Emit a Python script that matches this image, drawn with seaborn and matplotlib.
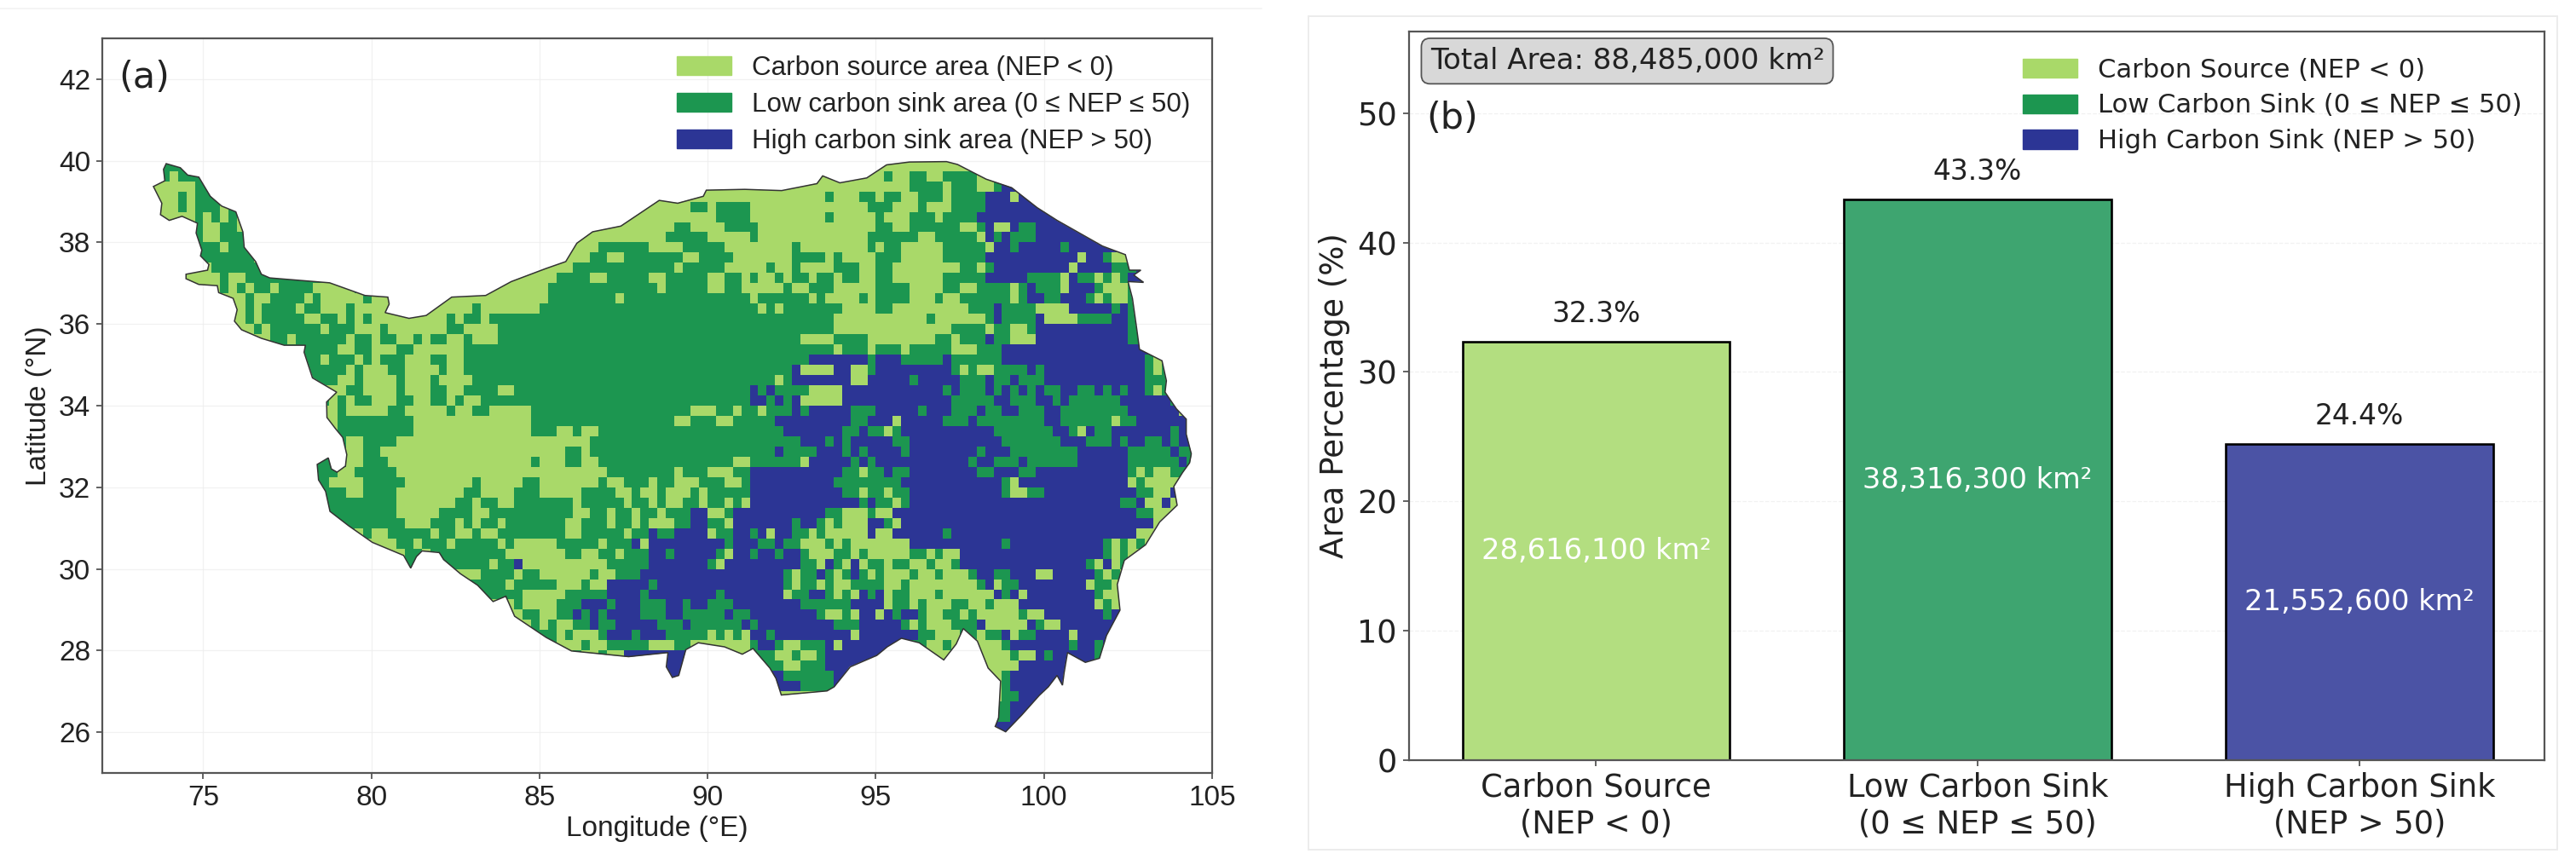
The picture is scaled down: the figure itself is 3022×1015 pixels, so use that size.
#!/usr/bin/env python3
import numpy as np
import pandas as pd
import matplotlib
matplotlib.use('Agg')
import matplotlib.pyplot as plt
import seaborn as sns
from matplotlib.patches import Patch, Polygon, Rectangle
from matplotlib.transforms import Affine2D

# Panel (a): NEP class map on a 0.25 degree grid.
# a = source, b = low sink, c = high sink, . = outside
# each row runs 73-75 | 75-80 | 80-85 | 85-90 | 90-95 | 95-100 | 100-105
map_rows = [
    "...bbbb.|||||.aaaaaaaaaaaaaa|",
    "...babbb||||.............aaaaaaa|abaabbaabbbbaa|",
    "..aaaaab|b||...................a|aaaaaaaaaaaaaaaaaaaa|aaaabbbbabbbaabcc|",
    "..aaabab|bb||..................aa|aaaaaaaaaaaaaabaaabb|abbaabbbabbbbcccacc.|",
    "...aabab|bbab||...............aaabb|abbbbaaaaaaaaaaaaaab|bbaaabaaabbbbccccccc|ccc",
    "...aaaab|ababa||............aaaaaaaa|abbbbaaaaaaaaabaaaaa|baaabbbabbbbcccccccc|cccc",
    ".......b|aabbaa||..........aaaaaabbaa|aabbbbaaaaaaaaaaaaaa|bbaabbbbbbaabcaacbbc|ccccc",
    ".......b|aabbbb||......aaaaaaaaabbbbb|aaaaabaaaaaaaaaaaaab|bbbbbaabbbbbacbcbbbc|cccccc",
    ".......b|bbabbb||...aaaabbbbbbaaaabbb|bbaaaaaaaabaaaaaaaab|abbaaaaabbbbbaccbccc|ccbcccccc",
    "|bbbbbba||..aaaabbaabbbbbbbaab|bbbaaaaaaabbbbabaaaa|bbbaaaaabbbbbccccccc|ccccaccbaabaab",
    "|abbbbbba|...................a|aaaabbbbbbbbbbbbabbb|bbaaaaabaabaaaabbbaa|bbaaaaaaaabbabcccccc|cccaccccbbbcc",
    "......aa|aabaabbbbbbbbbbb|.................aaa|aabbbbaabbbbbaabbbbb|aabbabaababbabbabbaa|bbaaaaaabbbbbcccccbb|bbacbbababcccc",
    ".......a|aabababbabbbbaaaaaba|.............aaaaaaa|abbbbbbbbbbbbbabbbbb|aabbaaaaabaabbbaaaaa|bbbbaaaabbaabbbbabcb|bbacccbaaabccc",
    "|...aabaabbbbabaaaaaba|aa..........aaaaaaaa|abbbbbbbbabbbbbbbbbb|bbbbbabbbbbbabaaaaba|bbbbaaabaabbbbbbabcc|bbcccbabaabcb",
    "|...aababbbbabbaaabaab|aa.....aaaaabaaaaaaa|bbbbbbbbbbbbbbbbbbbb|bbbbbbababbbbbbbaaaa|bbaaaaaaaaabbbcbbbba|aaacccccbcbb",
    "|...aababbbbbaabbabab|aaaaaaaaababbabbbbbb|bbbbbbbbbbbbbbbbbbbb|bbbbbbbbbbbbbbbaaaaa|aaaaaabaaaaaabcbbbbc|aaaabbbbccbbb",
    "|....aababbbbbbabbbaa|abaaaaaaabbaaaabbbbb|bbbbbbbbbbbbbbbbbbbb|bbbbbbbbbbbbbbbaaaaa|aaaaaaaaabbbbabbaabc|ccccccccccbbb",
    "|.......abbabbbbbbabb|abbaababbaabaaabbbbb|bbbbbbbbbbbbbbbbbbbb|bbbbbbbbbbbaaaabbbba|aaaaaaabbabbbcbbaaac|ccccccccccbbb",
    "|............bbbbaabb|aaabbaaaaaabbbbbbbbb|bbbbbbbbbbbbbbbbbbbb|bbbbbbbbbbbbbbbabbba|bbbabbbbbaaabbbccccc|ccccccccccccc",
    "|............bbabbbab|abbbaaabbaabbbbbbbbb|bbbbbbbbbbbbbbbbbbbb|bbbbbbbbbbbbcccccccb|cccbbbbbcbbbbbbccccc|ccccccccccccbab",
    "|............bbbbbaba|aabbaaaabaabbbbbbbbb|bbbbbbbbbbbbbbbbbbbb|bbbbbbbbbbcaaaaccaab|cccccccccbabaabbbbcb|ccccccccccccbabb",
    "|............bbbbaaba|aaabaaabaaaabbbbbbbb|bbbbbbbbbbbbbbbbbbbb|bbbbbbbbabcccccccaac|ccccbcccccbbbcbbcbbb|ccccccccccccbbbb",
    "|............bbaaabba|aaabaaabbaabbbbaabbb|bbbbbbbbbbbbbbbbbbbb|bbbbbcbcbbbbaaaacccc|ccccccccbcbbbcbcbcbc|bbccbbcbcbccbabab",
    "|............bbbababb|aaabbaabbabaabbbbbbb|bbbbbbbbbbbbbbbbbbbb|bbbbbccbcbcaaaaacccc|cccccccccbbbbbccbbbc|cbcbbbbbbccccccbba",
    "|............baaabaaa|aabbaaaaabaabbaaaaab|bbbbbbbbbbbbbbbbbbaa|abbabbabbbcbcccccbbb|cccccbcccbbbcbbccbbb|ccbbbbbbbbccccccacb",
    "|............baaabbbb|bbbbbaaaaaaaaaaaaaab|bbbbbbbbbbbbbbbbaabb|baabbbbbcccccccccbbc|ccacccccbbbcbbbbbbbb|ccbbbbbbabbcccccccca",
    "|...............abbbb|bbbbbaaaaaaaaaaaaaab|bbaabaabbbbbbbbbbbbb|bbbbbbbbbcccccccbbcb|babcccccccccccbbbbbb|bccbacbbcccccccbcccc",
    "|...............bbaab|bbbaaaaaaaaaaaaaaaaa|aaaaaabbbbbbbbbbbbbb|bbbbbbbbbbbcccbcbccc|ccbbcccccccccccbbbbb|bbcccbbbcbccbbcbccb",
    "|...............bbaab|baaaaaaaaaaaaaaaaaaa|aaabbabbbbbbbbbbbbbb|bbbbbbbbcbbbbcccbcbc|cccbccccccccbcccbbbb|bbbbccccccbbbbbcbbaa",
    "|.............bbbbaab|bbaaaaaaaaaaaaaaaaab|aaabbaabbbbbbbbbbbbb|bbbaabbbbbbacccccbcb|cccccccccccbccbbbcbb|bbbbccccccbbbbbbcbba",
    "|.............bbbaabb|bbbaaaaaaaaaaaaaaaaa|aaaaaaaabbbbbbbbabbb|aaabbcccccccccccbbab|bcbbccccccccbbcccbbc|ccccccccccbabaabbaab",
    "|.............bbaaaab|bbbbaaaaaaaabaaaaabb|aaaaaaabaabbbabbaaab|bbaabccccccccccbbbbb|bbbccccccccccccbaccc|ccccccccccabaaaabaaa",
    "|.............bbbbaab|bbbaaaaaaaabbaaaabbb|aaaaabbbbaabaabaaaba|bbbbbcccccccccccbbab|babbcccccccccccbaabb|cccccccccccbbaacaaaa",
    "|.............bbbbbbb|bbbaaaaaaabbabbaabbb|bbbbabbbbbabbabaabba|bbabacccccccccccccbc|bbabcccccccccccccccc|cccccccccbbcaacaaaa",
    "|..............bbbbbb|bbbaaaaabbbbaabbbbbb|bbbbaabbabbabbabbbcc|aabcccccccccccbbaaab|aacccccccccccccccccc|cccccccccccbbaaaaba",
    "|...............bbbbb|bbbbaaabbbababbabbbb|bbbaabbbabbabaaabbcc|bbacccccccbccbabaaac|cbaccccccccccccccccc|cccccccccccccaabaa",
    "|................bbab|aabbbbbabbaabaabbbbb|bbbaabbbbbabbcbbcccc|abbccbcaccbbabaaaaac|aaccccccbccccccccccc|cccccccccccaaaba",
    "|..................ba|aaabbabbbabbbbbabaaa|aabbbbbabbbcaccccccc|ccbcccbbcbbaaababaaa|aaaacccccccccccbcccc|cccccccbababaa",
    "||baaabbabbbbbbbbbaaaa|aaabbaabbabbbccbcccc|cbaccbccbccbaaabbaba|aaaabbabaacccccccccc|cccccccbabaabaab",
    "||...bbbbbbbbbbbabbcaa|aaaaaaaabbbbbccccccc|bacccccccccbbacbacab|babbaabaabcccccccccc|cccccbacabaabab",
    "||..........aaabbbbabb|aaaaaabaabbbcccccccc|cccccccccbabbcbabcba|baaabaabaaabccbbccca|acccccbabaabaab",
    "||.............bbbabbb|bbaaabaacccccbcccccc|cccccccccbabbabaabbb|baabaaaaaaaabcabbccc|cccccabbababab",
    "||...............bbbaa|aaabbbbbccccbccccccc|cbcccccccabbccbabacb|cabbaaabaaaaaacbcacc|ccccccbaabaaba",
    "||................abaa|aabbbcccbcccbbbccbcc|bbbccccccccbbbbbbccc|cabbabaaabbaabaaaccc|ccccccabaabab",
    "||................aabb|aabbcbcbccccbbbccbbb|bbcbbccccccccbaabacc|acbccbaabbabaaaaabaa|cccccccbcbbbb",
    "||..................ab|abaabbcbbcccccbbbcbb|bbbbcbcccccccccbbbcc|cccbabaaabbbcaaaaacb|aaccccccccc",
    "|||bbabaaabcccbcccbbbbb|ababaccbcccccccccacc|cccccbbaaabbabbcabbc|cccacccccb",
    "|||abaaabaabbbbbaaabbaa|aaaaabccbaabbbcacccc|ccccbbaabab..aabcccc|cccbccbc",
    "|||..aabaabaacc...ccc..|.aaaabbbaabaabcccccc|ccc.....aab...aabaac|bcccccb",
    "|||...............ccc|.......bbaabbbcccccc|.............aaaaccc|cccbcc",
    "|||...............ccc|.......ccbbbbbbccc|.............aabcccc|ccc",
    "|||...............ccc|........cccbbbbccc|..............abcccc|c",
    "||||........aaaaaaaa|..............abbccc|",
    "|||||..............bbcccc|",
    "|||||..............bbccc|",
    "|||||..............ccc|",
]
block_sizes = [8, 20, 20, 20, 20, 20, 20]
class_codes = {'a': 0, 'b': 1, 'c': 2}

# region outline, lon/lat read clockwise from the north-west tip
boundary = [
    (73.90, 39.93), (74.32, 39.83), (74.54, 39.65), (74.87, 39.60), (75.21, 39.13), (75.55, 38.89),
    (75.97, 38.75), (76.18, 38.26), (76.22, 37.88), (76.56, 37.53), (76.73, 37.22), (76.98, 37.13),
    (78.76, 37.01), (79.81, 36.70), (80.49, 36.66), (80.53, 36.49), (80.41, 36.28), (81.12, 36.14),
    (81.63, 36.21), (82.39, 36.66), (83.40, 36.70), (84.16, 37.04), (85.19, 37.36), (85.78, 37.53),
    (86.11, 37.98), (86.58, 38.26), (87.42, 38.40), (88.56, 39.03), (89.11, 38.96), (89.87, 39.13),
    (89.96, 39.28), (91.10, 39.30), (92.20, 39.27), (93.25, 39.44), (93.42, 39.63), (93.93, 39.46),
    (94.73, 39.58), (95.32, 39.90), (96.00, 39.97), (97.10, 39.98), (97.43, 39.91), (98.28, 39.55),
    (99.04, 39.34), (99.80, 38.85), (100.39, 38.54), (101.74, 37.91), (102.42, 37.70), (102.54, 37.32),
    (102.88, 37.32), (102.67, 37.20), (102.96, 37.02), (102.50, 37.04), (102.63, 36.63), (102.75, 35.93),
    (102.84, 35.38), (103.51, 35.10), (103.64, 34.61), (103.60, 34.33), (103.94, 33.92), (104.23, 33.67),
    (104.23, 33.30), (104.38, 32.82), (104.33, 32.60), (104.12, 32.36), (103.86, 32.02), (103.96, 31.56),
    (103.44, 31.15), (103.02, 30.59), (102.39, 30.21), (102.18, 29.62), (102.26, 28.99), (101.86, 28.37),
    (101.65, 27.81), (101.23, 27.71), (100.70, 27.95), (100.60, 27.46), (100.55, 27.15), (100.39, 27.39),
    (100.13, 27.11), (99.86, 26.90), (99.34, 26.42), (98.86, 26.01), (98.55, 26.14), (98.65, 26.35),
    (98.71, 27.25), (98.34, 27.57), (98.02, 28.23), (97.60, 28.54), (97.39, 28.16), (97.02, 27.77),
    (96.29, 28.19), (95.76, 28.30), (95.34, 28.09), (95.03, 27.88), (94.24, 27.60), (93.76, 27.11),
    (93.55, 27.01), (92.19, 26.91), (92.03, 27.32), (91.85, 27.57), (91.35, 28.05), (91.03, 27.91),
    (90.50, 28.09), (89.72, 28.19), (89.35, 28.02), (89.14, 27.39), (88.95, 27.34), (88.77, 27.60),
    (88.82, 27.95), (87.65, 27.85), (85.95, 27.99), (85.20, 28.32), (84.26, 28.84), (84.00, 29.33),
    (83.62, 29.20), (83.16, 29.60), (82.65, 29.88), (82.15, 30.23), (82.02, 30.40), (81.51, 30.44),
    (81.34, 30.30), (81.17, 30.02), (80.96, 30.33), (80.03, 30.65), (79.32, 31.06), (78.77, 31.41),
    (78.64, 31.90), (78.43, 32.18), (78.39, 32.56), (78.72, 32.72), (78.81, 32.45), (78.98, 32.37),
    (79.23, 32.52), (79.27, 32.80), (79.15, 33.22), (78.94, 33.43), (78.68, 33.71), (78.67, 34.09),
    (78.97, 34.33), (78.25, 34.68), (78.00, 35.31), (78.04, 35.48), (77.41, 35.48), (76.73, 35.65),
    (76.14, 35.86), (75.93, 36.07), (76.01, 36.35), (75.89, 36.63), (75.46, 36.77), (75.42, 36.94),
    (74.87, 36.97), (74.49, 37.11), (74.49, 37.22), (75.13, 37.32), (75.17, 37.46), (74.92, 37.67),
    (74.96, 37.81), (74.79, 38.23), (74.83, 38.47), (74.37, 38.64), (73.99, 38.54), (73.73, 38.68),
    (73.77, 38.96), (73.52, 39.37), (73.86, 39.51), (73.82, 39.79),
]
map_labels = ['Carbon source area (NEP < 0)', 'Low carbon sink area (0 ≤ NEP ≤ 50)', 'High carbon sink area (NEP > 50)']
map_colors = ['#A9D969', '#1C9650', '#2C3595']

# Panel (b)
categories = ['Carbon Source\n(NEP < 0)', 'Low Carbon Sink\n(0 ≤ NEP ≤ 50)', 'High Carbon Sink\n(NEP > 50)']
percentages = [32.3, 43.3, 24.4]
areas = ['28,616,100 km²', '38,316,300 km²', '21,552,600 km²']
bar_colors = ['#B3DE80', '#3EA570', '#4B53A5']
bar_labels = ['Carbon Source (NEP < 0)', 'Low Carbon Sink (0 ≤ NEP ≤ 50)', 'High Carbon Sink (NEP > 50)']

FIG_W, FIG_H = 3022, 1015

sns.set_style('white')
plt.rcParams['font.family'] = 'DejaVu Sans'


def px_axes(fig, left, top, right, bottom):
    return fig.add_axes([left / FIG_W, 1 - bottom / FIG_H, (right - left) / FIG_W, (bottom - top) / FIG_H])


def style_spines(ax):
    for spine in ax.spines.values():
        spine.set_visible(True)
        spine.set_color('#555555')
        spine.set_linewidth(1.6)


fig = plt.figure(figsize=(FIG_W / 100, FIG_H / 100), dpi=100)

# ---- map panel ----
ax_map = px_axes(fig, 120, 45, 1422, 907)
grid = np.full((len(map_rows), sum(block_sizes)), np.nan)
for r, row in enumerate(map_rows):
    blocks = row.split('|')
    blocks += [''] * (len(block_sizes) - len(blocks))
    text = ''.join(b.ljust(n, '.')[:n] for b, n in zip(blocks, block_sizes))
    for c, ch in enumerate(text):
        if ch in class_codes:
            grid[r, c] = class_codes[ch]
# blank cells take their neighbour's class, the outline clips away what lies outside
grid_df = pd.DataFrame(grid).bfill(axis=1).ffill(axis=1)

cell_to_data = Affine2D().scale(0.25, -0.25).translate(73, 40) + ax_map.transData
sns.heatmap(grid_df, ax=ax_map, cmap=map_colors, vmin=0, vmax=2, cbar=False,
            xticklabels=False, yticklabels=False, transform=cell_to_data)
mesh = ax_map.collections[0]
outline = Polygon(boundary, closed=True, fill=False, edgecolor='#333333', linewidth=1.1, zorder=3)
ax_map.add_patch(outline)
mesh.set_clip_path(outline)

ax_map.set_xlim(72, 105)
ax_map.set_ylim(25, 43)
ax_map.set_xticks(range(75, 106, 5))
ax_map.set_yticks(range(26, 43, 2))
ax_map.set_xticklabels(range(75, 106, 5), rotation=0, fontsize=24, family='Liberation Sans', color='#222222')
ax_map.set_yticklabels(range(26, 43, 2), rotation=0, fontsize=24, family='Liberation Sans', color='#222222')
ax_map.tick_params(axis='both', length=5, width=1.3, color='#555555', bottom=True, left=True, pad=5)
ax_map.grid(True, color='#eeeeee', linewidth=0.9, alpha=0.8)
ax_map.set_axisbelow(True)
ax_map.set_xlabel('Longitude (°E)', fontsize=24, family='Liberation Sans', color='#222222', labelpad=4)
ax_map.set_ylabel('Latitude (°N)', fontsize=24, family='Liberation Sans', color='#222222', labelpad=6)
style_spines(ax_map)
ax_map.text(0.0145, 0.9465, '(a)', transform=ax_map.transAxes, fontsize=31, va='center', color='#222222')
ax_map.legend(handles=[Patch(color=c, label=l) for c, l in zip(map_colors, map_labels)],
              loc='upper right', bbox_to_anchor=(0.9876, 0.988), frameon=False, borderaxespad=0, borderpad=0.3,
              prop={'family': 'Liberation Sans', 'size': 22.6}, handlelength=2.04, handleheight=0.72,
              labelspacing=0.42, handletextpad=0.78, labelcolor='#222222')

# ---- bar panel ----
ax_bar = px_axes(fig, 1653, 37, 2985, 892)
df = pd.DataFrame({'category': categories, 'percent': percentages})
sns.barplot(data=df, x='category', y='percent', hue='category', palette=bar_colors, width=0.7,
            edgecolor='black', linewidth=1.9, saturation=1, legend=False, ax=ax_bar)
ax_bar.set_ylim(0, 56.3)
ax_bar.set_xlim(-0.49, 2.485)
ax_bar.set_xlabel('')
ax_bar.set_ylabel('Area Percentage (%)', fontsize=26.7, color='#222222', labelpad=6)
ax_bar.tick_params(axis='both', labelsize=26.5, length=5, width=1.3, color='#555555', bottom=True, left=True,
                   labelcolor='#222222', pad=5)
ax_bar.grid(True, axis='y', color='#eeeeee', linewidth=0.9, linestyle='--', alpha=0.8)
ax_bar.set_axisbelow(True)
style_spines(ax_bar)
for i, (pct, area) in enumerate(zip(percentages, areas)):
    ax_bar.text(i, pct + 1.1, f'{pct}%', ha='center', va='bottom', fontsize=23.7, color='#222222')
    ax_bar.text(i, pct / 2, area, ha='center', va='center', fontsize=24.2, color='white')
ax_bar.text(0.0185, 0.9595, 'Total Area: 88,485,000 km²', transform=ax_bar.transAxes, fontsize=24.5, va='center',
            color='#222222', bbox=dict(boxstyle='round,pad=0.3', facecolor='#d8d8d8', edgecolor='#555555', linewidth=1.3))
ax_bar.text(0.0155, 0.881, '(b)', transform=ax_bar.transAxes, fontsize=31, va='center', color='#222222')
ax_bar.legend(handles=[Patch(color=c, label=l) for c, l in zip(map_colors, bar_labels)],
              loc='upper right', bbox_to_anchor=(0.987, 0.975), frameon=False, borderaxespad=0, borderpad=0.3,
              fontsize=22.1, handlelength=2.08, handleheight=0.75, labelspacing=0.42, handletextpad=0.78,
              labelcolor='#222222')

# faint frames of the two source panels
fig.add_artist(Rectangle((1535 / FIG_W, 1 - 997 / FIG_H), 1465 / FIG_W, 978 / FIG_H, transform=fig.transFigure,
                         fill=False, edgecolor='#ececec', linewidth=1.4))
fig.add_artist(plt.Line2D([0, 1480 / FIG_W], [1 - 10 / FIG_H] * 2, transform=fig.transFigure, color='#f2f2f2', linewidth=1.2))

fig.savefig('out.png', dpi=100, facecolor='white')
